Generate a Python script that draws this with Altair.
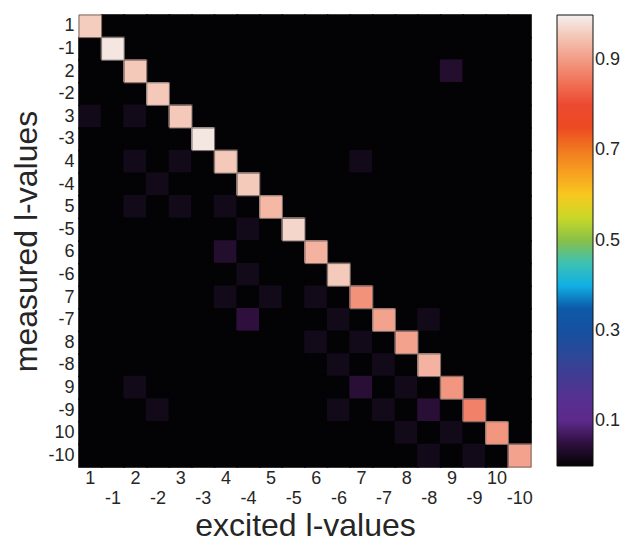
import altair as alt
import pandas as pd

labels = ["1", "-1", "2", "-2", "3", "-3", "4", "-4", "5", "-5",
          "6", "-6", "7", "-7", "8", "-8", "9", "-9", "10", "-10"]

# diagonal (measured == excited) values, in label order
diag_values = [0.96, 0.99, 0.955, 0.955, 0.955, 0.99, 0.955, 0.957, 0.935, 0.97,
               0.93, 0.957, 0.89, 0.91, 0.91, 0.93, 0.895, 0.87, 0.895, 0.91]

# off-diagonal cross-talk: measured label, excited label, value
off_measured = ["2", "3", "3", "4", "4", "4", "-4", "5", "5", "5", "-5", "6", "-6",
                "7", "7", "7", "-7", "-7", "-7", "8", "8", "-8", "-8",
                "9", "9", "9", "-9", "-9", "-9", "-9", "10", "10", "-10", "-10"]
off_excited = ["9", "1", "2", "2", "3", "7", "-2", "2", "3", "4", "-4", "4", "-4",
               "4", "5", "6", "-4", "-6", "-8", "6", "7", "-6", "-7",
               "2", "7", "8", "-2", "-6", "-7", "-8", "8", "9", "-8", "-9"]
off_values = [0.04, 0.02, 0.02, 0.02, 0.02, 0.02, 0.02, 0.02, 0.02, 0.02, 0.02, 0.04, 0.02,
              0.02, 0.02, 0.02, 0.05, 0.02, 0.02, 0.02, 0.02, 0.02, 0.02,
              0.02, 0.045, 0.02, 0.02, 0.02, 0.02, 0.045, 0.02, 0.02, 0.02, 0.02]

# colormap stops (colorbar)
cmap_stops = [0.0, 0.03, 0.06, 0.10, 0.15, 0.20, 0.25, 0.30, 0.35, 0.38, 0.40, 0.44,
              0.48, 0.50, 0.55, 0.57, 0.60, 0.65, 0.70, 0.75, 0.78, 0.82, 0.86, 0.90,
              0.95, 1.0]
cmap_colors = ["#030305", "#1a0a1e", "#3a0f50", "#5c2a8a", "#563092", "#403c92",
               "#2a4898", "#1650a0", "#0d5aa8", "#0a80c8", "#10b0e4", "#40c0c0",
               "#60c080", "#88c048", "#c8d828", "#f8ec20", "#f8c820", "#f8a020",
               "#f07a20", "#ec4a22", "#e83626", "#ee5a3c", "#f07a60", "#f29a84",
               "#f4c4b4", "#f4f0ee"]
colorbar_ticks = [0.1, 0.3, 0.5, 0.7, 0.9]

cells = {}
for m in labels:
    for e in labels:
        cells[(m, e)] = 0.0
for i, lab in enumerate(labels):
    cells[(lab, lab)] = diag_values[i]
for m, e, v in zip(off_measured, off_excited, off_values):
    cells[(m, e)] = v

df = pd.DataFrame([{"measured": m, "excited": e, "value": v} for (m, e), v in cells.items()])

FONT = "Liberation Sans"
TXT = "#262626"

x_enc = alt.X("excited:N", sort=labels, scale=alt.Scale(paddingInner=0, paddingOuter=0),
              axis=alt.Axis(title="excited l-values", labelAngle=0, ticks=False, domain=False,
                            grid=False,
                            labelFontSize=18, labelFont=FONT, labelColor=TXT,
                            labelPadding=2, labelBaseline="top", labelAlign="center",
                            labelLineHeight=20,
                            labelExpr="indexof(datum.label, '-') == 0 ? ['', datum.label] : datum.label",
                            titleFontSize=32, titleFont=FONT, titleFontWeight="normal",
                            titleColor=TXT, titleX=226, titleY=68,
                            titleBaseline="alphabetic", titleAlign="center"))
y_enc = alt.Y("measured:N", sort=labels, scale=alt.Scale(paddingInner=0, paddingOuter=0),
              axis=alt.Axis(title="measured l-values", ticks=False, domain=False, grid=False,
                            labelFontSize=18, labelFont=FONT, labelColor=TXT,
                            labelPadding=5,
                            titleFontSize=32, titleFont=FONT, titleFontWeight="normal",
                            titleColor=TXT, titleX=-43, titleY=226, titleAngle=-90,
                            titleBaseline="alphabetic", titleAlign="center"))
color_enc = alt.Color("value:Q",
                      scale=alt.Scale(domain=cmap_stops, range=cmap_colors, clamp=True),
                      legend=alt.Legend(title=None, direction="vertical", orient="right",
                                        offset=26, padding=0,
                                        gradientLength=451, gradientThickness=36,
                                        gradientStrokeColor="#111", gradientStrokeWidth=1,
                                        values=colorbar_ticks, labelFontSize=18,
                                        labelFont=FONT, labelColor=TXT, labelOffset=2,
                                        labelOverlap=False))

base = alt.Chart(df).encode(x=x_enc, y=y_enc, color=color_enc)
# cells drawn slightly oversized so that neighbouring cells overlap (no seams)
cells_layer = base.mark_rect(width=alt.RelativeBandSize(1.07),
                             height=alt.RelativeBandSize(1.07))
border_layer = base.transform_filter("datum.value > 0.5").mark_rect(
    stroke="#7d6e6b", strokeWidth=1)

chart = alt.layer(cells_layer, border_layer).properties(
    width=452, height=452,
    autosize=alt.AutoSizeParams(type="none"),
    padding={"left": 79, "top": 15, "right": 91, "bottom": 74},
).configure_view(stroke="#444", strokeWidth=1, fill="#030305").configure(background="white")

chart.save("out.html", embed_options={"renderer": "svg", "actions": False})
